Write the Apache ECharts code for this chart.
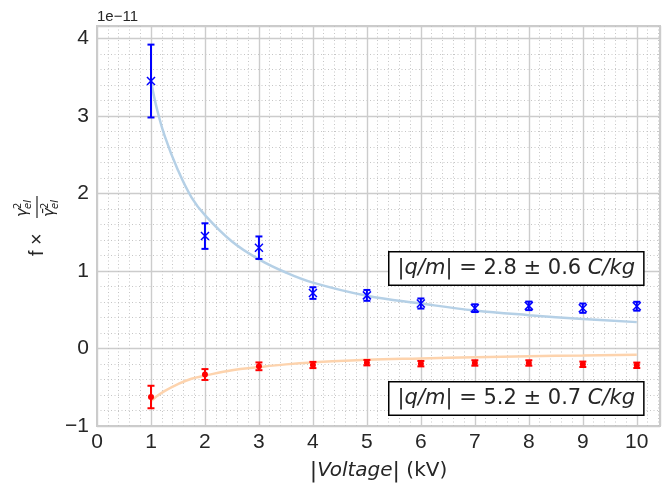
<!DOCTYPE html>
<html>
<head>
<meta charset="utf-8">
<script src="https://cdn.jsdelivr.net/npm/echarts@6/dist/echarts.min.js"></script>
<style>
  html, body { margin: 0; padding: 0; background: #fff; }
  #chart { width: 665px; height: 487px; }
</style>
</head>
<body>
<div id="chart"></div>
<script>
// measured points (values in units of 1e-11)
const voltage = [1, 2, 3, 4, 5, 6, 7, 8, 9, 10];
const blueY = [3.45, 1.45, 1.30, 0.715, 0.685, 0.58, 0.52, 0.55, 0.52, 0.545];
const blueErr = [0.47, 0.165, 0.145, 0.075, 0.07, 0.065, 0.05, 0.055, 0.06, 0.057];
const redY = [-0.626, -0.336, -0.23, -0.213, -0.183, -0.196, -0.187, -0.187, -0.204, -0.217];
const redErr = [0.145, 0.07, 0.05, 0.04, 0.035, 0.035, 0.035, 0.035, 0.035, 0.035];

// fitted curves
const fitX = [1, 1.1, 1.25, 1.5, 1.75, 2, 2.5, 3, 3.5, 4, 5, 6, 7, 8, 9, 10];
const blueFit = [3.45, 3.12, 2.75, 2.3, 1.95, 1.72, 1.38, 1.15, 0.98, 0.85, 0.68, 0.58, 0.49, 0.43, 0.38, 0.34];
const orangeFit = [-0.68, -0.62, -0.55, -0.46, -0.39, -0.35, -0.28, -0.24, -0.205, -0.18, -0.145, -0.128, -0.113, -0.1, -0.09, -0.08];

const FONT = "DejaVu Sans";
const SANS = "Liberation Sans";
const TXT = "#262626";
const chart = echarts.init(document.getElementById("chart"));

function pairs(xs, ys) {
  return xs.map((x, i) => [x, ys[i]]);
}
function errRows(ys, errs) {
  return voltage.map((x, i) => [x, ys[i], ys[i] - errs[i], ys[i] + errs[i]]);
}

function errorBar(color, marker) {
  return function (params, api) {
    const x = api.value(0);
    const p = api.coord([x, api.value(1)]);
    const lo = api.coord([x, api.value(2)]);
    const hi = api.coord([x, api.value(3)]);
    const cap = 3.5;
    const st = { stroke: color, lineWidth: 2 };
    const children = [
      { type: "line", shape: { x1: lo[0], y1: lo[1], x2: hi[0], y2: hi[1] }, style: st },
      { type: "line", shape: { x1: lo[0] - cap, y1: lo[1], x2: lo[0] + cap, y2: lo[1] }, style: st },
      { type: "line", shape: { x1: hi[0] - cap, y1: hi[1], x2: hi[0] + cap, y2: hi[1] }, style: st },
    ];
    if (marker === "x") {
      const s = 4;
      const ms = { stroke: color, lineWidth: 1.5 };
      children.push({ type: "line", shape: { x1: p[0] - s, y1: p[1] - s, x2: p[0] + s, y2: p[1] + s }, style: ms });
      children.push({ type: "line", shape: { x1: p[0] - s, y1: p[1] + s, x2: p[0] + s, y2: p[1] - s }, style: ms });
    } else {
      children.push({ type: "circle", shape: { cx: p[0], cy: p[1], r: 3 }, style: { fill: color } });
    }
    return { type: "group", children: children };
  };
}

const intLabel = (v) => {
  const r = Math.round(v);
  if (Math.abs(v - r) > 1e-6) return "";
  return String(r).replace("-", "\u2212");
};

const minorLine = { show: true, lineStyle: { color: "#c0c0c0", width: 0.9, type: [1, 2.5] } };
const majorLine = { show: true, lineStyle: { color: "#cccccc", width: 1.4 } };
const tickText = { formatter: intLabel, fontSize: 21, color: TXT, fontFamily: SANS };

const option = {
  animation: false,
  grid: { left: 97, right: 5, top: 26, bottom: 56, show: true, borderColor: "#cbcbcb", borderWidth: 2, backgroundColor: "#fff" },
  xAxis: [
    {
      type: "value", position: "bottom", min: 0, max: 10.43, interval: 0.2,
      axisLine: { show: false }, axisTick: { show: false }, axisLabel: { show: false },
      splitLine: minorLine,
    },
    {
      type: "value", position: "bottom", min: 0, max: 10.43, interval: 1,
      axisLine: { show: false }, axisTick: { show: false },
      axisLabel: Object.assign({ margin: 6 }, tickText),
      splitLine: majorLine,
      name: "{b||}{i|Voltage}{b||}{s| (kV)}",
      nameLocation: "middle", nameGap: 34,
      nameTextStyle: {
        fontSize: 20, color: TXT, fontFamily: FONT,
        rich: {
          i: { fontSize: 20, fontStyle: "italic", color: TXT, fontFamily: FONT },
          b: { fontSize: 22, color: TXT, fontFamily: FONT },
          s: { fontSize: 20, color: TXT, fontFamily: FONT },
        },
      },
    },
  ],
  yAxis: [
    {
      type: "value", position: "left", min: -1, max: 4.16, interval: 0.2,
      axisLine: { show: false }, axisTick: { show: false }, axisLabel: { show: false },
      splitLine: minorLine,
    },
    {
      type: "value", position: "left", min: -1, max: 4.16, interval: 1,
      axisLine: { show: false }, axisTick: { show: false },
      axisLabel: Object.assign({ margin: 8 }, tickText),
      splitLine: majorLine,
    },
  ],
  series: [
    {
      type: "line", xAxisIndex: 1, yAxisIndex: 1, smooth: 0.4, symbol: "none",
      data: pairs(fitX, blueFit),
      lineStyle: { color: "#b5d0e6", width: 2.5 }, z: 3,
    },
    {
      type: "line", xAxisIndex: 1, yAxisIndex: 1, smooth: 0.4, symbol: "none",
      data: pairs(fitX, orangeFit),
      lineStyle: { color: "#fdd3ad", width: 2.5 }, z: 3,
    },
    {
      type: "custom", xAxisIndex: 1, yAxisIndex: 1, z: 5,
      renderItem: errorBar("#0000ff", "x"),
      data: errRows(blueY, blueErr),
    },
    {
      type: "custom", xAxisIndex: 1, yAxisIndex: 1, z: 5,
      renderItem: errorBar("#ff0000", "dot"),
      data: errRows(redY, redErr),
    },
  ],
  graphic: [
    {
      type: "text", left: 97, top: 9, z: 10,
      style: { text: "1e\u221211", font: "15px " + SANS, fill: TXT },
    },
    {
      type: "text", left: 388, top: 251, z: 10,
      style: {
        text: "|{i|q/m}| = 2.8 \u00b1 0.6 {i|C/kg}",
        font: "21px " + FONT, fill: TXT,
        backgroundColor: "#fff", borderColor: "#000", borderWidth: 1.5, padding: [6, 8, 5, 8],
        rich: { i: { font: "italic 21px " + FONT, fill: TXT } },
      },
    },
    {
      type: "text", left: 388, top: 381, z: 10,
      style: {
        text: "|{i|q/m}| = 5.2 \u00b1 0.7 {i|C/kg}",
        font: "21px " + FONT, fill: TXT,
        backgroundColor: "#fff", borderColor: "#000", borderWidth: 1.5, padding: [6, 8, 5, 8],
        rich: { i: { font: "italic 21px " + FONT, fill: TXT } },
      },
    },
    {
      // y-axis label: f x gamma^2_el / gammabar^2_el, drawn rotated
      type: "group", x: 37, y: 228, rotation: Math.PI / 2, z: 10,
      children: [
        { type: "text", x: -28, y: 0, style: { text: "f \u00d7", font: "20px " + SANS, fill: TXT, verticalAlign: "middle" } },
        { type: "text", x: 11, y: -14, style: { text: "\u03b3", font: "italic 15px " + FONT, fill: TXT, verticalAlign: "middle" } },
        { type: "text", x: 19, y: -19, style: { text: "2", font: "10px " + FONT, fill: TXT, verticalAlign: "middle" } },
        { type: "text", x: 19, y: -9, style: { text: "el", font: "italic 10px " + FONT, fill: TXT, verticalAlign: "middle" } },
        { type: "line", shape: { x1: 10, y1: 0, x2: 32, y2: 0 }, style: { stroke: TXT, lineWidth: 1.2 } },
        { type: "text", x: 11, y: 13, style: { text: "\u03b3\u0304", font: "italic 15px " + FONT, fill: TXT, verticalAlign: "middle" } },
        { type: "text", x: 19, y: 8, style: { text: "2", font: "10px " + FONT, fill: TXT, verticalAlign: "middle" } },
        { type: "text", x: 19, y: 18, style: { text: "el", font: "italic 10px " + FONT, fill: TXT, verticalAlign: "middle" } },
      ],
    },
  ],
};

chart.setOption(option);
</script>
</body>
</html>
